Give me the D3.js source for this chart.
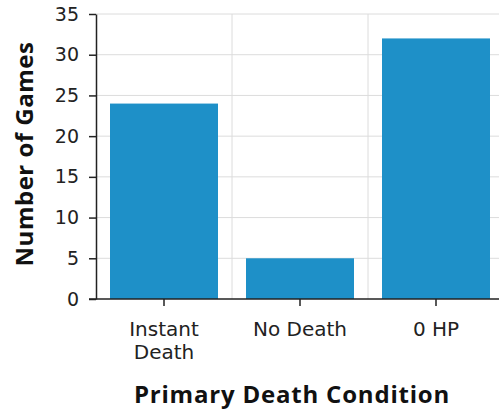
<!DOCTYPE html>
<html>
<head>
<meta charset="utf-8">
<script src="https://cdn.jsdelivr.net/npm/d3@7"></script>
<style>
  html, body { margin: 0; padding: 0; background: #fff; }
  svg { display: block; }
</style>
</head>
<body>
<div id="chart"></div>
<script>
"use strict";

const categories = [["Instant", "Death"], ["No Death"], ["0 HP"]];
const gameCounts = [24, 5, 32];
const yTicks = [0, 5, 10, 15, 20, 25, 30, 35];
const xTitle = "Primary Death Condition";
const yTitle = "Number of Games";

const width = 499;
const height = 415;
const margin = { top: 14, right: -5, bottom: 116, left: 96 };
const plotW = width - margin.left - margin.right;
const plotH = height - margin.top - margin.bottom;

const keys = categories.map((c) => c.join(" "));

const svg = d3
  .select("#chart")
  .append("svg")
  .attr("width", width)
  .attr("height", height)
  .attr("viewBox", `0 0 ${width} ${height}`);

const g = svg.append("g").attr("transform", `translate(${margin.left},${margin.top})`);

const x = d3.scaleBand().domain(keys).range([0, plotW]);
const y = d3.scaleLinear().domain([0, 35]).range([plotH, 0]);

// grid
g.selectAll("line.hgrid")
  .data(yTicks.slice(1))
  .join("line")
  .attr("class", "hgrid")
  .attr("x1", 0)
  .attr("x2", plotW)
  .attr("y1", (d) => y(d))
  .attr("y2", (d) => y(d))
  .attr("stroke", "#dcdcdc")
  .attr("stroke-width", 1);

g.selectAll("line.vgrid")
  .data(keys.slice(1))
  .join("line")
  .attr("class", "vgrid")
  .attr("x1", (d) => x(d))
  .attr("x2", (d) => x(d))
  .attr("y1", 0)
  .attr("y2", plotH)
  .attr("stroke", "#dcdcdc")
  .attr("stroke-width", 1);

// bars
const barPad = 14;
g.selectAll("rect.bar")
  .data(keys)
  .join("rect")
  .attr("class", "bar")
  .attr("x", (d) => x(d) + barPad)
  .attr("width", x.bandwidth() - barPad * 2)
  .attr("y", (d, i) => y(gameCounts[i]))
  .attr("height", (d, i) => plotH - y(gameCounts[i]))
  .attr("fill", "#1e90c8");

// y axis
const yAxis = g
  .append("g")
  .call(d3.axisLeft(y).tickValues(yTicks).tickSize(7).tickPadding(10).tickSizeOuter(0));
yAxis.select(".domain").attr("stroke", "#222").attr("stroke-width", 1.5);
yAxis.selectAll(".tick line").attr("stroke", "#222").attr("stroke-width", 1.5);
yAxis
  .selectAll(".tick text")
  .attr("fill", "#222")
  .style("font-family", "Verdana, 'DejaVu Sans', sans-serif")
  .style("font-size", "19px");

// x axis
const xAxis = g
  .append("g")
  .attr("transform", `translate(0,${plotH})`)
  .call(d3.axisBottom(x).tickSize(7).tickSizeOuter(0).tickFormat(() => ""));
xAxis.select(".domain").attr("stroke", "#222").attr("stroke-width", 1.5)
  .attr("d", `M-7,0H${plotW}`);
xAxis.selectAll(".tick line").attr("stroke", "#222").attr("stroke-width", 1.5);

xAxis
  .selectAll(".tick")
  .append("text")
  .attr("fill", "#222")
  .attr("text-anchor", "middle")
  .style("font-family", "Verdana, 'DejaVu Sans', sans-serif")
  .style("font-size", "20px")
  .selectAll("tspan")
  .data((d) => categories[keys.indexOf(d)])
  .join("tspan")
  .attr("x", 0)
  .attr("y", (d, i) => 37 + i * 22.5)
  .text((d) => d);

// titles
svg
  .append("text")
  .attr("x", margin.left + 196)
  .attr("y", 403)
  .attr("text-anchor", "middle")
  .attr("fill", "#111")
  .style("font-family", "'Open Sans', sans-serif")
  .style("font-weight", "bold")
  .style("font-size", "24px")
  .style("letter-spacing", "0.8px")
  .text(xTitle);

svg
  .append("text")
  .attr("transform", `translate(33,154) rotate(-90)`)
  .attr("text-anchor", "middle")
  .attr("fill", "#111")
  .style("font-family", "'Open Sans', sans-serif")
  .style("font-weight", "bold")
  .style("font-size", "24px")
  .style("letter-spacing", "0.5px")
  .text(yTitle);
</script>
</body>
</html>
